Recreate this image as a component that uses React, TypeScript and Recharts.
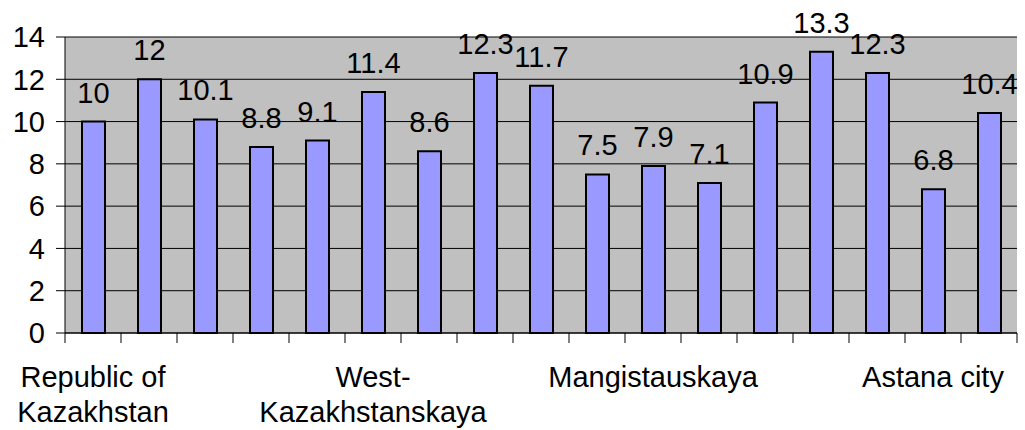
import React from 'react';
import { BarChart, Bar, XAxis, YAxis, CartesianGrid, LabelList } from 'recharts';

const regions = [
  'Republic of Kazakhstan',
  'Akmolinskaya',
  'Aktyubinskaya',
  'Almatinskaya',
  'Atyrauskaya',
  'West-Kazakhstanskaya',
  'Zhambylskaya',
  'Karagandinskaya',
  'Kostanaiskaya',
  'Kyzylordinskaya',
  'Mangistauskaya',
  'South-Kazakhstanskaya',
  'Pavlodarskaya',
  'North-Kazakhstanskaya',
  'East-Kazakhstanskaya',
  'Astana city',
  'Almaty city',
];
const values = [10, 12, 10.1, 8.8, 9.1, 11.4, 8.6, 12.3, 11.7, 7.5, 7.9, 7.1, 10.9, 13.3, 12.3, 6.8, 10.4];
const yTicks = [0, 2, 4, 6, 8, 10, 12, 14];
const labelEvery = 5;

const data = regions.map((name, i) => ({ name, value: values[i] }));

const FONT = '"Liberation Sans", Arial, Helvetica, sans-serif';

function splitLabel(s: string): string[] {
  const h = s.indexOf('-');
  if (h > 0) return [s.slice(0, h + 1), s.slice(h + 1)];
  const sp = s.lastIndexOf(' ');
  if (sp > 0 && s.length > 12) return [s.slice(0, sp), s.slice(sp + 1)];
  return [s];
}

function XTick(props: any) {
  const { x, y, payload } = props;
  const i = payload.index ?? props.index;
  const half = payload.offset ?? 0;
  const lines = splitLabel(String(payload.value));
  return (
    <g>
      <line x1={x - half} x2={x - half} y1={y} y2={y + 10} stroke="#000" strokeWidth={1} />
      {i === data.length - 1 && (
        <line x1={x + half} x2={x + half} y1={y} y2={y + 10} stroke="#000" strokeWidth={1} />
      )}
      {i % labelEvery === 0 && (
        <text x={x} y={y} textAnchor="middle" fontSize={29} fontFamily={FONT} fill="#000">
          {lines.map((l, k) => (
            <tspan key={k} x={x} dy={k === 0 ? 54 : 35}>
              {l}
            </tspan>
          ))}
        </text>
      )}
    </g>
  );
}

export default function App() {
  return (
    <div style={{ width: 1025, height: 430, background: '#fff' }}>
      <style>{'body{margin:0}'}</style>
      <BarChart
        width={1025}
        height={430}
        data={data}
        margin={{ top: 37, right: 8, bottom: 0, left: 0 }}
        barSize={23}
      >
        <CartesianGrid vertical={false} stroke="#000" fill="#C0C0C0" />
        <XAxis
          dataKey="name"
          height={97}
          interval={0}
          tickLine={false}
          tickSize={0}
          tickMargin={0}
          axisLine={{ stroke: '#000' }}
          tick={<XTick />}
        />
        <XAxis
          xAxisId="top"
          dataKey="name"
          orientation="top"
          height={0}
          tick={false}
          tickLine={false}
          axisLine={{ stroke: '#808080' }}
        />
        <YAxis
          domain={[0, 14]}
          ticks={yTicks}
          width={65}
          tickSize={9}
          tickMargin={11}
          axisLine={{ stroke: '#000' }}
          tickLine={{ stroke: '#000' }}
          tick={{ fontSize: 29, fill: '#000', fontFamily: FONT }}
        />
        <YAxis
          yAxisId="right"
          orientation="right"
          domain={[0, 14]}
          width={0}
          tick={false}
          tickLine={false}
          axisLine={{ stroke: '#808080' }}
        />
        <Bar dataKey="value" fill="#9999FF" stroke="#000" strokeWidth={2} isAnimationActive={false}>
          <LabelList
            dataKey="value"
            position="top"
            offset={19}
            fontSize={29}
            fontFamily={FONT}
            fill="#000"
          />
        </Bar>
      </BarChart>
    </div>
  );
}
